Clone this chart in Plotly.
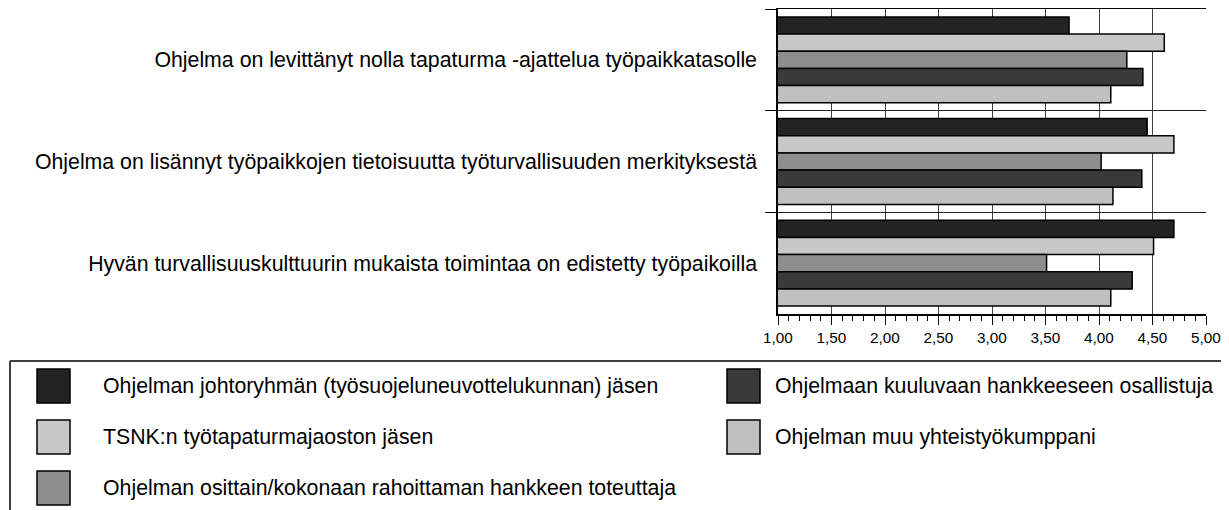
import plotly.graph_objects as go

categories = [
    "Ohjelma on levittänyt nolla tapaturma -ajattelua työpaikkatasolle",
    "Ohjelma on lisännyt työpaikkojen tietoisuutta työturvallisuuden merkityksestä",
    "Hyvän turvallisuuskulttuurin mukaista toimintaa on edistetty työpaikoilla",
]
series_names = [
    "Ohjelman johtoryhmän (työsuojeluneuvottelukunnan) jäsen",
    "TSNK:n työtapaturmajaoston jäsen",
    "Ohjelman osittain/kokonaan rahoittaman hankkeen toteuttaja",
    "Ohjelmaan kuuluvaan hankkeeseen osallistuja",
    "Ohjelman muu yhteistyökumppani",
]
s1 = [3.72, 4.45, 4.70]
s2 = [4.61, 4.70, 4.51]
s3 = [4.26, 4.02, 3.51]
s4 = [4.41, 4.40, 4.31]
s5 = [4.11, 4.13, 4.11]
series_values = [s1, s2, s3, s4, s5]
series_colors = ["#232323", "#c8c8c8", "#8e8e8e", "#3a3a3a", "#c0c0c0"]
tick_values = [1.0, 1.5, 2.0, 2.5, 3.0, 3.5, 4.0, 4.5, 5.0]
tick_labels = ["1,00", "1,50", "2,00", "2,50", "3,00", "3,50", "4,00", "4,50", "5,00"]

OFF = 8  # page body margin
W, H = 1229 - OFF, 510 - OFF
L, T = 778 - OFF, 9 - OFF
R = W - (1206 - OFF)
B = H - (314 - OFF)
PW, PH = W - L - R, H - T - B


def px_x(px):
    # screenshot pixel -> paper coordinate
    return (px - OFF - L) / PW


def px_y(py):
    return 1 - (py - OFF - T) / PH


FONT = "Arial, Liberation Sans, sans-serif"

fig = go.Figure()
for name, vals, col in zip(series_names, series_values, series_colors):
    fig.add_trace(go.Bar(
        y=categories, x=vals, orientation="h", name=name,
        marker=dict(color=col, line=dict(color="#000000", width=1.5)),
        showlegend=False, hoverinfo="x+name",
    ))

fig.update_layout(
    width=W, height=H,
    margin=dict(l=L, r=R, t=T, b=B, autoexpand=False),
    paper_bgcolor="white", plot_bgcolor="white",
    barmode="group", bargap=0.155, bargroupgap=0,
    font=dict(family=FONT, color="black"),
)
fig.update_xaxes(
    range=[1, 5], tickvals=tick_values, ticktext=tick_labels,
    showgrid=True, gridcolor="#404040", gridwidth=1,
    showline=True, linecolor="black", linewidth=1.5, mirror=True,
    ticks="outside", ticklen=9, tickcolor="black", tickwidth=1.2,
    tickfont=dict(size=15.3, family=FONT, color="black"),
    minor=dict(dtick=0.1, ticks="outside", ticklen=5, tickcolor="black", tickwidth=1, showgrid=False),
    zeroline=False, fixedrange=True,
)
fig.update_yaxes(
    type="category", autorange="reversed", tickson="boundaries",
    showgrid=True, gridcolor="#202020", gridwidth=1,
    showline=True, linecolor="black", linewidth=1.5,
    ticks="outside", ticklen=11, tickcolor="black", tickwidth=1.2,
    ticklabelstandoff=15,
    tickfont=dict(size=21.3, family=FONT, color="black"),
    fixedrange=True,
)

shapes = []
annotations = []
# legend frame (cut by image edges)
shapes.append(dict(type="line", xref="paper", yref="paper",
                   x0=px_x(10), x1=px_x(1240), y0=px_y(361), y1=px_y(361),
                   line=dict(color="black", width=1.5)))
shapes.append(dict(type="line", xref="paper", yref="paper",
                   x0=px_x(10), x1=px_x(10), y0=px_y(361), y1=px_y(530),
                   line=dict(color="black", width=1.5)))
legend_pos = [(37, 101, 386), (37, 101, 437), (37, 101, 488), (727, 773, 386), (727, 773, 437)]
for (sx, tx, cy), name, col in zip(legend_pos, series_names, series_colors):
    shapes.append(dict(type="rect", xref="paper", yref="paper",
                       x0=px_x(sx), x1=px_x(sx + 33), y0=px_y(cy - 17), y1=px_y(cy + 17),
                       fillcolor=col, line=dict(color="black", width=1.5)))
    annotations.append(dict(xref="paper", yref="paper", x=px_x(tx), y=px_y(cy),
                            xanchor="left", yanchor="middle", showarrow=False,
                            text=name, font=dict(size=21.3, family=FONT, color="black")))
fig.update_layout(shapes=shapes, annotations=annotations)

fig.write_html("out.html")
